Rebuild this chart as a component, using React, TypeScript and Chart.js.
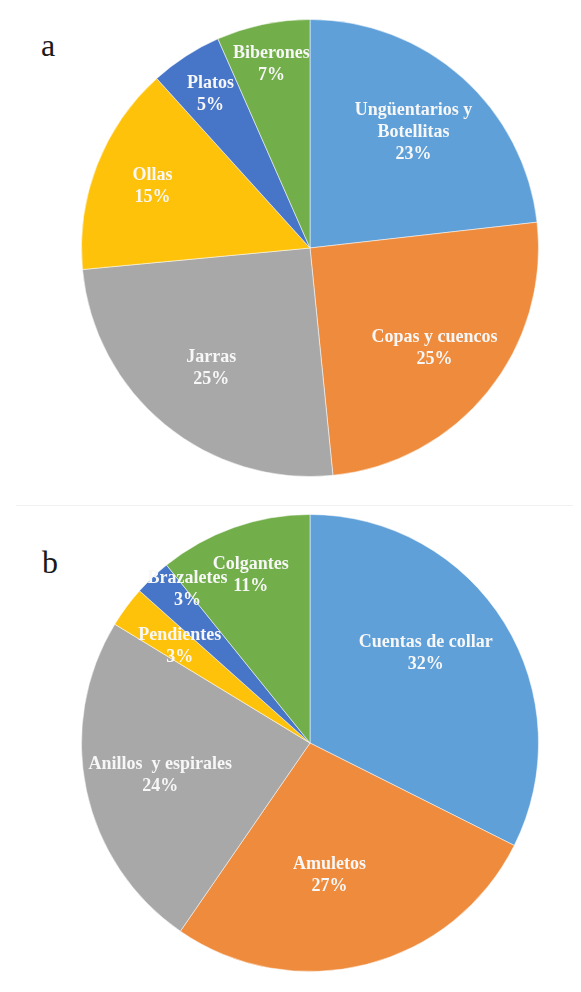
import React, { useEffect, useRef } from "react";
import { Chart, registerables } from "chart.js";

Chart.register(...registerables);

// Panel a
const categoriesA = ["Ungüentarios y\nBotellitas", "Copas y cuencos", "Jarras", "Ollas", "Platos", "Biberones"];
const valuesA = [23.2, 25.2, 25.1, 14.8, 5.1, 6.6];

// Panel b
const categoriesB = ["Cuentas de collar", "Amuletos", "Anillos  y espirales", "Pendientes", "Brazaletes", "Colgantes"];
const valuesB = [32.4, 27.2, 24.1, 2.9, 2.6, 10.8];

const sliceColors = ["#60A0D9", "#EE8B3C", "#A8A8A8", "#FFC20A", "#4775C7", "#72AE4A"];

// label placement style: distance from centre (fraction of radius) and angular nudge (degrees)
const labelRadiusA = [0.68, 0.7, 0.68, 0.74, 0.8, 0.82];
const labelNudgeA = [0, 0, 0, 0, 0, 0];
const labelRadiusB = [0.64, 0.585, 0.67, 0.71, 0.86, 0.78];
const labelNudgeB = [-6, 6, 0, 0, 5, 0];

const sliceLabels = {
  id: "sliceLabels",
  afterDatasetsDraw(chart: any, _args: any, opts: any) {
    const ctx = chart.ctx;
    const meta = chart.getDatasetMeta(0);
    const data = chart.data.datasets[0].data as number[];
    const total = data.reduce((a, b) => a + b, 0);
    const labels = chart.data.labels as string[];
    ctx.save();
    ctx.font = 'bold 18px "Liberation Serif", serif';
    ctx.fillStyle = "#f7f7f7";
    ctx.textAlign = "center";
    ctx.textBaseline = "middle";
    meta.data.forEach((arc: any, i: number) => {
      const p = arc.getProps(["x", "y", "startAngle", "endAngle", "outerRadius"], true);
      const mid = (p.startAngle + p.endAngle) / 2 + ((opts.nudge?.[i] ?? 0) * Math.PI) / 180;
      const r = p.outerRadius * (opts.radii?.[i] ?? 0.65);
      const cx = p.x + Math.cos(mid) * r;
      const cy = p.y + Math.sin(mid) * r;
      const lines = [...labels[i].split("\n"), Math.round((data[i] / total) * 100) + "%"];
      const lh = 22;
      lines.forEach((l, j) => ctx.fillText(l, cx, cy + (j - (lines.length - 1) / 2) * lh));
    });
    ctx.restore();
  },
};

function Pie({ labels, values, radii, nudge, left, top, size }: { labels: string[]; values: number[]; radii: number[]; nudge: number[]; left: number; top: number; size: number }) {
  const ref = useRef<HTMLCanvasElement | null>(null);
  useEffect(() => {
    if (!ref.current) return;
    const chart = new Chart(ref.current, {
      type: "pie",
      data: {
        labels,
        datasets: [
          {
            data: values,
            backgroundColor: sliceColors,
            borderColor: "rgba(255,255,255,0.5)",
            borderWidth: 1,
          },
        ],
      },
      options: {
        responsive: false,
        maintainAspectRatio: false,
        animation: false,
        layout: { padding: 0 },
        plugins: {
          legend: { display: false },
          tooltip: { enabled: false },
          sliceLabels: { radii, nudge },
        } as any,
      },
      plugins: [sliceLabels],
    });
    return () => chart.destroy();
  }, []);
  return (
    <canvas
      ref={ref}
      width={size}
      height={size}
      style={{ position: "absolute", left, top, width: size, height: size }}
    />
  );
}

export default function App() {
  const letterStyle: React.CSSProperties = {
    position: "absolute",
    fontFamily: '"Liberation Serif", serif',
    fontSize: 32,
    lineHeight: "32px",
    color: "#1a1a1a",
  };
  return (
    <div
      style={{
        position: "relative",
        width: 573,
        height: 985,
        marginTop: -1,
        marginLeft: -1,
        borderLeft: "1px solid #444",
        borderTop: "1px solid #444",
        background: "#ffffff",
        overflow: "hidden",
      }}
    >
      <div style={{ position: "absolute", left: 8, top: 497, width: 570, height: 1, background: "#f0f0f0" }} />
      <div style={{ ...letterStyle, left: 33, top: 21 }}>a</div>
      <div style={{ ...letterStyle, left: 34, top: 538 }}>b</div>
      <Pie labels={categoriesA} values={valuesA} radii={labelRadiusA} nudge={labelNudgeA} left={73} top={11} size={458} />
      <Pie labels={categoriesB} values={valuesB} radii={labelRadiusB} nudge={labelNudgeB} left={73} top={506} size={458} />
    </div>
  );
}
